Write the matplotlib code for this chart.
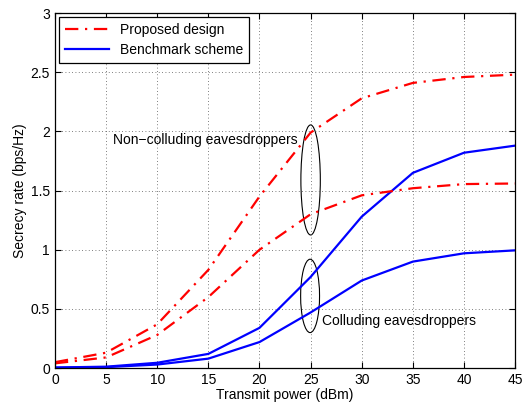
import matplotlib
matplotlib.use('Agg')
import matplotlib.pyplot as plt
from matplotlib.patches import Ellipse

plt.rcParams['font.family'] = ['Liberation Sans', 'DejaVu Sans']

# Transmit power (dBm)
power = [0, 5, 10, 15, 20, 25, 30, 35, 40, 45]

# Proposed design
prop_noncol = [0.05, 0.13, 0.37, 0.83, 1.45, 1.99, 2.28, 2.41, 2.46, 2.48]
prop_col = [0.04, 0.09, 0.28, 0.60, 1.00, 1.30, 1.46, 1.52, 1.555, 1.56]

# Benchmark scheme
bench_noncol = [0.005, 0.012, 0.045, 0.12, 0.34, 0.77, 1.28, 1.65, 1.82, 1.88]
bench_col = [0.003, 0.008, 0.03, 0.08, 0.22, 0.47, 0.74, 0.90, 0.97, 0.995]

fig = plt.figure(figsize=(5.23, 4.09), dpi=100)
ax = fig.add_axes([0.105, 0.100, 0.880, 0.868])

red_style = dict(color='red', linestyle=(0, (6, 3, 1, 3)), linewidth=1.6)
blue_style = dict(color='blue', linestyle='-', linewidth=1.6)

ax.plot(power, prop_noncol, label='Proposed design', **red_style)
ax.plot(power, bench_noncol, label='Benchmark scheme', **blue_style)
ax.plot(power, prop_col, **red_style)
ax.plot(power, bench_col, **blue_style)

# ellipses grouping the curves
ax.add_patch(Ellipse((25, 1.59), 1.9, 0.93, fill=False, edgecolor='black', linewidth=0.8))
ax.add_patch(Ellipse((24.95, 0.61), 1.85, 0.62, fill=False, edgecolor='black', linewidth=0.8))

ax.text(5.7, 1.93, 'Non\u2212colluding eavesdroppers', fontsize=10, va='center', ha='left')
ax.text(26.1, 0.40, 'Colluding eavesdroppers', fontsize=10, va='center', ha='left')

ax.set_xlim(0, 45)
ax.set_ylim(0, 3)
ax.set_xticks(range(0, 46, 5))
ax.set_yticks([0, 0.5, 1, 1.5, 2, 2.5, 3])
ax.set_yticklabels(['0', '0.5', '1', '1.5', '2', '2.5', '3'])
ax.tick_params(direction='in', top=True, right=True, labelsize=10, length=4, width=0.8)
ax.grid(True, linestyle=(0, (1, 3)), color='#555555', linewidth=0.6)
for s in ax.spines.values():
    s.set_linewidth(0.9)

ax.set_xlabel('Transmit power (dBm)', fontsize=10, labelpad=1)
ax.set_ylabel('Secrecy rate (bps/Hz)', fontsize=10, labelpad=3)

leg = ax.legend(loc='upper left', fontsize=10, fancybox=False, framealpha=1,
                edgecolor='black', borderaxespad=0.3, handlelength=3.2,
                borderpad=0.4, labelspacing=0.45)
leg.get_frame().set_linewidth(0.9)

fig.savefig('out.png', dpi=100)
